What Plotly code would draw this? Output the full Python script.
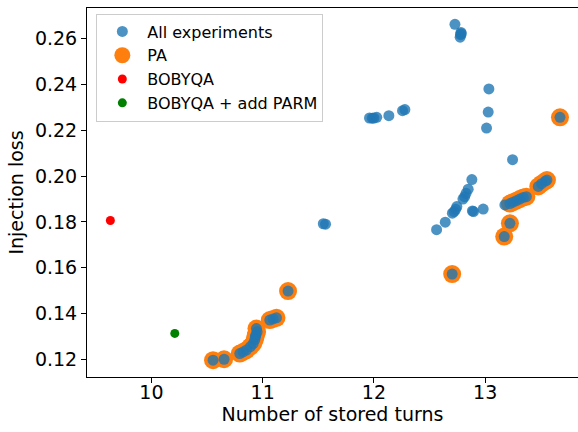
import plotly.graph_objects as go

# All experiments
all_x = [12.728, 12.782, 12.778, 12.775, 12.785,
         13.033, 13.027, 13.012,
         11.960, 11.985, 12.000, 12.025, 12.134, 12.257, 12.278,
         11.545, 11.565,
         12.563, 12.641, 12.705, 12.720, 12.735, 12.745, 12.800, 12.815, 12.828, 12.847, 12.880,
         12.885, 12.895, 12.982,
         13.246,
         13.177, 13.222, 13.250, 13.280, 13.310, 13.342, 13.370,
         13.477, 13.507, 13.540, 13.555,
         13.222, 13.171, 12.703, 13.672,
         11.228, 11.064, 11.094, 11.124,
         10.944, 10.950, 10.938, 10.935, 10.929, 10.914, 10.890, 10.854, 10.824, 10.794,
         10.554, 10.653]
all_y = [0.2663, 0.2628, 0.2618, 0.2607, 0.2622,
         0.2381, 0.2280, 0.2210,
         0.2254, 0.2253, 0.2254, 0.2257, 0.2264, 0.2286, 0.2291,
         0.1792, 0.1790,
         0.1766, 0.1799, 0.1838, 0.1845, 0.1855, 0.1867, 0.1900, 0.1910, 0.1925, 0.1943, 0.1985,
         0.1848, 0.1845, 0.1856,
         0.2072,
         0.1874, 0.1880, 0.1886, 0.1893, 0.1900, 0.1907, 0.1910,
         0.1955, 0.1967, 0.1978, 0.1983,
         0.1794, 0.1736, 0.1572, 0.2257,
         0.1498, 0.1371, 0.1376, 0.1381,
         0.1334, 0.1320, 0.1305, 0.1298, 0.1285, 0.1268, 0.1255, 0.1240, 0.1232, 0.1225,
         0.1196, 0.1200]

# PA (Pareto) points
pa_x = [13.222, 13.250, 13.280, 13.310, 13.342, 13.370,
        13.477, 13.507, 13.540, 13.555,
        13.222, 13.171, 12.703, 13.672,
        11.228, 11.064, 11.094, 11.124,
        10.944, 10.950, 10.938, 10.935, 10.929, 10.914, 10.890, 10.854, 10.824, 10.794,
        10.554, 10.653]
pa_y = [0.1880, 0.1886, 0.1893, 0.1900, 0.1907, 0.1910,
        0.1955, 0.1967, 0.1978, 0.1983,
        0.1794, 0.1736, 0.1572, 0.2257,
        0.1498, 0.1371, 0.1376, 0.1381,
        0.1334, 0.1320, 0.1305, 0.1298, 0.1285, 0.1268, 0.1255, 0.1240, 0.1232, 0.1225,
        0.1196, 0.1200]

bobyqa_x = [9.631]
bobyqa_y = [0.1806]
parm_x = [10.21]
parm_y = [0.1313]

x_ticks = [10, 11, 12, 13]
y_ticks = [0.12, 0.14, 0.16, 0.18, 0.20, 0.22, 0.24, 0.26]

FONT = "DejaVu Sans"

fig = go.Figure()
fig.add_trace(go.Scatter(x=pa_x, y=pa_y, mode="markers", name="PA",
                         marker=dict(color="#ff7f0e", size=18, line=dict(width=0)),
                         legendrank=2))
fig.add_trace(go.Scatter(x=all_x, y=all_y, mode="markers", name="All experiments",
                         marker=dict(color="#1f77b4", size=11, opacity=0.8, line=dict(width=0)),
                         legendrank=1))
fig.add_trace(go.Scatter(x=bobyqa_x, y=bobyqa_y, mode="markers", name="BOBYQA",
                         marker=dict(color="#ff0000", size=9, line=dict(width=0)),
                         legendrank=3))
fig.add_trace(go.Scatter(x=parm_x, y=parm_y, mode="markers", name="BOBYQA + add PARM",
                         marker=dict(color="#008000", size=9, line=dict(width=0)),
                         legendrank=4))

fig.update_layout(
    width=578, height=432,
    margin=dict(l=87, r=0, t=8, b=55),
    paper_bgcolor="white", plot_bgcolor="white",
    font=dict(family=FONT, size=19, color="black"),
    showlegend=True,
    legend=dict(x=0.019, y=0.985, xanchor="left", yanchor="top",
                font=dict(family=FONT, size=16, color="black"),
                bgcolor="rgba(255,255,255,0.8)", bordercolor="#cccccc", borderwidth=1,
                itemsizing="trace", itemwidth=40, traceorder="normal"),
    xaxis=dict(range=[9.421, 13.834], tickvals=x_ticks, ticktext=[str(t) for t in x_ticks],
               showgrid=False, zeroline=False, showline=True, linecolor="black", linewidth=1,
               mirror=True, ticks="outside", ticklen=5, tickcolor="black",
               ticklabelstandoff=-7,
               title=dict(text="Number of stored turns", standoff=0,
                          font=dict(family=FONT, size=19))),
    yaxis=dict(range=[0.11225, 0.27345], tickvals=y_ticks, ticktext=[f"{t:.2f}" for t in y_ticks],
               showgrid=False, zeroline=False, showline=True, linecolor="black", linewidth=1,
               mirror=False, ticks="outside", ticklen=5, tickcolor="black",
               title=dict(text="Injection loss", standoff=6,
                          font=dict(family=FONT, size=19))),
)

fig.write_html("out.html")
